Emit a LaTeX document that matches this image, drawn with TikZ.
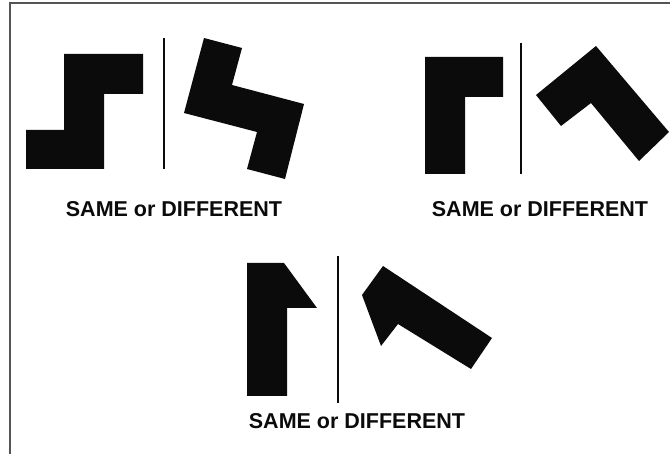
\documentclass[tikz,border=0pt]{standalone}
\usepackage{fontspec}
\setmainfont{Liberation Sans}
\usetikzlibrary{positioning}
\definecolor{ink}{HTML}{0A0B0A}
\definecolor{framegray}{HTML}{555555}
\tikzset{
  block/.style={fill=ink,draw=none},
  divider/.style={draw=ink,line width=2.6pt},
  frameline/.style={draw=framegray,line width=1.6pt},
  lbl/.style={font=\fontsize{21.5}{24}\selectfont\bfseries,inner sep=0pt,text=ink}
}

\begin{document}
\begin{tikzpicture}[x=1pt,y=-1pt]
\useasboundingbox (0,0) rectangle (670,454);
% frame (only top and left edges show)
\draw[frameline] (10,454) -- (10,3) -- (670,3);
% pair 1
\fill[block] (64,54) -- (143,54) -- (143,94) -- (104,94) -- (104,169) -- (26,169) -- (26,130) -- (64,130) -- cycle;
\coordinate (d1t) at (164,38); \coordinate (d1b) at (164,169);
\draw[divider] (d1t) -- (d1b);
\fill[block] (204,38) -- (242,48) -- (232,85) -- (304,104) -- (285,179) -- (247,169) -- (257,132) -- (184,113) -- cycle;
\node[lbl] (q1) at (174,209) {SAME or DIFFERENT};
% pair 2
\fill[block] (425,57) -- (503,57) -- (503,97) -- (465,97) -- (465,174) -- (425,174) -- cycle;
\coordinate (d2t) at (521,43); \coordinate (d2b) at (521,174);
\draw[divider] (d2t) -- (d2b);
\fill[block] (596,46) -- (669,132) -- (639,161) -- (591,103) -- (561,126) -- (536,95) -- cycle;
\node[lbl] (q2) at (540,209) {SAME or DIFFERENT};
% pair 3
\fill[block] (247,263) -- (284,263) -- (317,308) -- (287,308) -- (287,396) -- (247,396) -- cycle;
\coordinate (d3t) at (338,256); \coordinate (d3b) at (338,403);
\draw[divider] (d3t) -- (d3b);
\fill[block] (383,266) -- (492,338) -- (471,369) -- (398,324) -- (381,346) -- (362,295) -- cycle;
\node[lbl] (q3) at (357,421) {SAME or DIFFERENT};
\end{tikzpicture}
\end{document}
